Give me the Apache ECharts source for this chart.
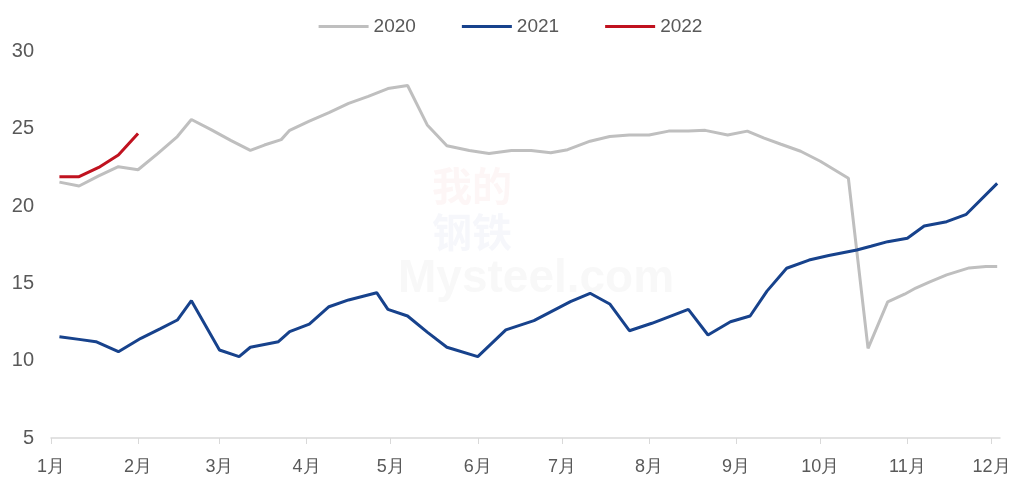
<!DOCTYPE html>
<html>
<head>
<meta charset="utf-8">
<script src="https://cdn.jsdelivr.net/npm/echarts@6/dist/echarts.min.js"></script>
<style>
  html, body { margin: 0; padding: 0; background: #ffffff; }
  #chart { width: 1021px; height: 477px; }
</style>
</head>
<body>
<div id="chart"></div>
<script>
// Weekly readings, dated by month-day; every year is laid onto one shared calendar
const dates2020 = ['01-04','01-11','01-18','01-25','02-01','02-08','02-15','02-20','02-27','03-05',
  '03-12','03-17','03-23','03-26','04-02','04-09','04-16','04-23','04-30','05-07',
  '05-14','05-21','05-29','06-05','06-13','06-20','06-27','07-03','07-11','07-18',
  '07-25','08-01','08-08','08-15','08-21','08-29','09-05','09-11','09-17','09-24',
  '10-01','10-11','10-18','10-25','10-31','11-04','11-09','11-15','11-23','11-29','12-03'];
const values2020 = [21.55,21.3,21.95,22.55,22.35,23.4,24.5,25.6,24.95,24.25,
  23.6,23.95,24.3,24.9,25.5,26.05,26.65,27.1,27.6,27.8,
  25.25,23.9,23.6,23.4,23.6,23.6,23.45,23.65,24.2,24.5,
  24.6,24.6,24.85,24.85,24.9,24.6,24.85,24.4,24.0,23.55,
  22.9,21.8,10.8,13.8,14.3,14.7,15.1,15.55,16.0,16.1,16.1];

const dates2021 = ['01-04','01-11','01-17','01-25','02-02','02-09','02-15','02-20','03-01','03-08',
  '03-12','03-17','03-22','03-26','04-02','04-09','04-16','04-26','04-30','05-07',
  '05-14','05-21','06-01','06-11','06-21','07-04','07-11','07-18','07-25','08-02',
  '08-15','08-22','08-30','09-06','09-12','09-19','09-27','10-04','10-14','10-19',
  '10-25','11-01','11-07','11-15','11-22','12-03'];
const values2021 = [11.55,11.38,11.23,10.58,11.45,12.07,12.63,13.88,10.69,10.26,
  10.87,11.05,11.23,11.88,12.37,13.49,13.93,14.4,13.32,12.89,
  11.85,10.87,10.26,11.99,12.59,13.82,14.36,13.67,11.94,12.42,
  13.32,11.66,12.52,12.89,14.5,15.98,16.51,16.8,17.16,17.4,
  17.7,17.92,18.71,18.99,19.47,21.47];

const dates2022 = ['01-04','01-11','01-18','01-25','02-01'];
const values2022 = [21.9,21.9,22.5,23.3,24.7];

const seriesNames = ['2020','2021','2022'];
const monthLabels = ['1月','2月','3月','4月','5月','6月','7月','8月','9月','10月','11月','12月'];
const yTicks = [5, 10, 15, 20, 25, 30];

// Shared calendar year (leap year so Feb 29 has a slot); x is days since Jan 1
const BASE_YEAR = 2020;
const DAY_MS = 86400000;
const yearStart = Date.UTC(BASE_YEAR, 0, 1);
function dayOfYear(month, day) {
  return Math.round((Date.UTC(BASE_YEAR, month - 1, day) - yearStart) / DAY_MS);
}
function toDay(md) {
  const parts = md.split('-').map(Number);
  return dayOfYear(parts[0], parts[1]);
}
function pairs(dates, values) {
  return dates.map((d, i) => [toDay(d), values[i]]);
}
const monthStarts = monthLabels.map((_, i) => dayOfYear(i + 1, 1));

const textColor = '#595959';
const labelFont = '"Liberation Sans Narrow", "Liberation Sans", Arial, sans-serif';

const chart = echarts.init(document.getElementById('chart'));
chart.setOption({
  backgroundColor: '#ffffff',
  animation: false,
  color: ['#bfbfbf', '#17428c', '#c0121f'],
  legend: {
    data: seriesNames,
    top: 12,
    left: 'center',
    icon: 'rect',
    itemWidth: 50,
    itemHeight: 3,
    itemGap: 46,
    textStyle: { color: textColor, fontSize: 19, fontFamily: labelFont }
  },
  // faint publisher watermark behind the plot
  graphic: [
    {
      type: 'text',
      left: 398, top: 256,
      silent: true,
      z: -1,
      style: {
        text: 'Mysteel.com',
        fill: 'rgba(120,120,120,0.05)',
        font: 'bold 46px "Liberation Sans", Arial, sans-serif'
      }
    },
    {
      type: 'text',
      left: 432, top: 166,
      silent: true,
      z: -1,
      style: {
        text: '我的',
        fill: 'rgba(210,40,40,0.045)',
        font: 'bold 40px "Noto Sans CJK SC", sans-serif'
      }
    },
    {
      type: 'text',
      left: 432, top: 212,
      silent: true,
      z: -1,
      style: {
        text: '钢铁',
        fill: 'rgba(40,70,170,0.045)',
        font: 'bold 40px "Noto Sans CJK SC", sans-serif'
      }
    }
  ],
  grid: { left: 51, right: 21, top: 51.5, bottom: 39 },
  xAxis: {
    type: 'value',
    min: 0,
    max: toDay('12-04'),
    axisLine: { show: true, lineStyle: { color: '#d9d9d9', width: 1.5 } },
    axisTick: { show: true, length: 6, lineStyle: { color: '#d9d9d9' }, customValues: monthStarts },
    splitLine: { show: false },
    axisLabel: {
      customValues: monthStarts,
      color: textColor,
      fontSize: 18,
      fontFamily: labelFont,
      margin: 20,
      formatter: function (value) {
        return monthLabels[monthStarts.indexOf(value)];
      }
    }
  },
  yAxis: {
    type: 'value',
    min: yTicks[0],
    max: yTicks[yTicks.length - 1],
    interval: 5,
    axisLine: { show: false },
    axisTick: { show: false },
    splitLine: { show: false },
    axisLabel: { color: textColor, fontSize: 20, fontFamily: labelFont, margin: 17 }
  },
  series: [
    { name: seriesNames[0], type: 'line', data: pairs(dates2020, values2020), showSymbol: false, symbol: 'none', lineStyle: { width: 3 }, z: 2 },
    { name: seriesNames[1], type: 'line', data: pairs(dates2021, values2021), showSymbol: false, symbol: 'none', lineStyle: { width: 3 }, z: 3 },
    { name: seriesNames[2], type: 'line', data: pairs(dates2022, values2022), showSymbol: false, symbol: 'none', lineStyle: { width: 3 }, z: 4 }
  ]
});
</script>
</body>
</html>
